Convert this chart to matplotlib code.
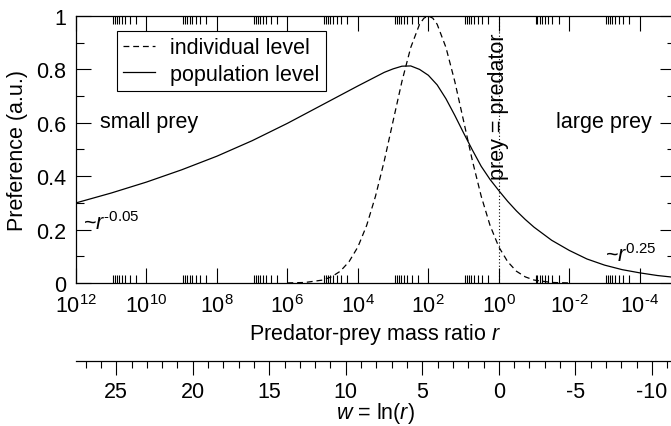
import matplotlib
matplotlib.use("Agg")
import matplotlib.pyplot as plt
from matplotlib.ticker import FixedLocator, FuncFormatter, MultipleLocator
import numpy as np

plt.rcParams['font.family'] = ['Liberation Sans', 'DejaVu Sans']
plt.rcParams['font.size'] = 15.5
plt.rcParams['mathtext.fontset'] = 'custom'
plt.rcParams['mathtext.rm'] = 'Liberation Sans'
plt.rcParams['mathtext.it'] = 'Liberation Sans:italic'
plt.rcParams['axes.unicode_minus'] = False
plt.rcParams['lines.scale_dashes'] = False

HYPHEN = '\u2010'

# log10 of the predator-prey mass ratio and preference, individual level
ind_log_r = [6.0, 5.5, 5.0, 4.75, 4.5, 4.25, 4.0, 3.75, 3.5, 3.25, 3.0, 2.75,
             2.5, 2.25, 2.125, 2.0, 1.875, 1.75, 1.5, 1.25, 1.0, 0.75, 0.5,
             0.25, 0.0, -0.25, -0.5, -0.75, -1.0, -1.5, -2.0]
ind_pref = [0.0003, 0.002, 0.011, 0.023, 0.044, 0.080, 0.135, 0.216, 0.325,
            0.458, 0.607, 0.755, 0.882, 0.969, 0.992, 1.0, 0.992, 0.969,
            0.882, 0.755, 0.607, 0.458, 0.325, 0.216, 0.135, 0.080, 0.044,
            0.023, 0.011, 0.002, 0.0003]

# population level
pop_log_r = [12.0, 11.0, 10.0, 9.0, 8.0, 7.0, 6.0, 5.5, 5.0, 4.5, 4.0, 3.5,
             3.25, 3.0, 2.75, 2.5, 2.25, 2.0, 1.75, 1.5, 1.25, 1.0, 0.75,
             0.5, 0.25, 0.0, -0.25, -0.5, -0.75, -1.0, -1.5, -2.0, -2.5,
             -3.0, -3.5, -4.0, -4.5, -5.0]
pop_pref = [0.300, 0.337, 0.378, 0.424, 0.475, 0.533, 0.598, 0.633, 0.668,
            0.703, 0.738, 0.772, 0.789, 0.802, 0.812, 0.813, 0.800, 0.778,
            0.742, 0.690, 0.628, 0.562, 0.498, 0.437, 0.388, 0.346, 0.306,
            0.270, 0.238, 0.209, 0.160, 0.122, 0.090, 0.067, 0.050, 0.038,
            0.028, 0.021]

x_decades = [12, 10, 8, 6, 4, 2, 0, -2, -4]
y_ticks = [0, 0.2, 0.4, 0.6, 0.8, 1.0]
w_range = (12, -5)  # decades spanned by the axis


def decade_label(v, pos):
    k = int(round(np.log10(v)))
    s = str(k).replace('-', HYPHEN)
    return '$10^{%s}$' % s


fig = plt.figure(figsize=(6.71, 4.27), dpi=100)
W, H = 671, 427
x0, x1 = 76, 675
ax = fig.add_axes([x0 / W, 1 - 284 / H, (x1 - x0) / W, 267 / H])

ax.plot(10.0 ** np.array(ind_log_r), ind_pref, color='black', lw=0.9,
        ls=(0, (4.2, 2.8)), label='individual level')
ax.plot(10.0 ** np.array(pop_log_r), pop_pref, color='black', lw=0.9,
        label='population level')
ax.axvline(1.0, color='black', lw=0.8, ls=(0, (0.8, 1.6)))

ax.set_xscale('log')
ax.set_xlim(10.0 ** w_range[0], 10.0 ** w_range[1])
ax.set_ylim(0, 1)

ax.xaxis.set_major_locator(FixedLocator([10.0 ** k for k in x_decades]))
ax.xaxis.set_minor_locator(FixedLocator([m * 10.0 ** k for k in x_decades
                                         for m in range(2, 10)]))
ax.xaxis.set_major_formatter(FuncFormatter(decade_label))
ax.xaxis.set_minor_formatter(FuncFormatter(lambda v, p: ''))
ax.yaxis.set_major_locator(FixedLocator(y_ticks))
ax.yaxis.set_minor_locator(MultipleLocator(0.1))
ax.yaxis.set_major_formatter(FuncFormatter(lambda v, p: '%g' % v))

ax.tick_params(which='both', direction='in', top=True, right=True, width=0.8)
ax.tick_params(which='major', length=10.5)
ax.tick_params(which='minor', length=5.5)
ax.tick_params(axis='x', which='major', pad=8)
ax.tick_params(axis='y', which='major', pad=7)
for s in ax.spines.values():
    s.set_linewidth(0.9)

ax.set_xlabel('Predator-prey mass ratio $r$', labelpad=3)
ax.set_ylabel('Preference (a.u.)', labelpad=6)

ax.text(10.0 ** 11.32, 0.603, 'small prey', ha='left', va='center')
ax.text(10.0 ** -4.34, 0.603, 'large prey', ha='right', va='center')
ax.text(1.0, 0.665, 'prey = predator', rotation=90, ha='center', va='center')
ax.text(10.0 ** 11.8, 0.202, '~$r^{%s0.05}$' % HYPHEN, ha='left',
        va='baseline')
ax.text(10.0 ** -3.0, 0.082, '~$r^{0.25}$', ha='left', va='baseline')

leg = ax.legend(loc='upper left', bbox_to_anchor=(0.0684, 0.944),
                borderaxespad=0, fancybox=False, framealpha=1,
                edgecolor='black', handlelength=1.45, handletextpad=0.7,
                labelspacing=0.25, borderpad=0.3)
leg.get_frame().set_linewidth(0.8)

# second scale underneath: w = ln(r)
axw = fig.add_axes([x0 / W, 1 - 361.7 / H, (x1 - x0) / W, 0.0001])
axw.patch.set_visible(False)
for side in ['top', 'left', 'right']:
    axw.spines[side].set_visible(False)
axw.spines['bottom'].set_linewidth(0.9)
axw.set_yticks([])
axw.set_xlim(w_range[0] * np.log(10), w_range[1] * np.log(10))
axw.xaxis.set_major_locator(MultipleLocator(5))
axw.xaxis.set_minor_locator(MultipleLocator(1))
axw.xaxis.set_major_formatter(FuncFormatter(lambda v, p: '%d' % v))
axw.tick_params(which='both', direction='out', width=0.8)
axw.tick_params(which='major', length=10, pad=4.5)
axw.tick_params(which='minor', length=5)
axw.set_xlabel('$w$ = ln($r$)', labelpad=-1)

fig.savefig('out.png', dpi=100)
